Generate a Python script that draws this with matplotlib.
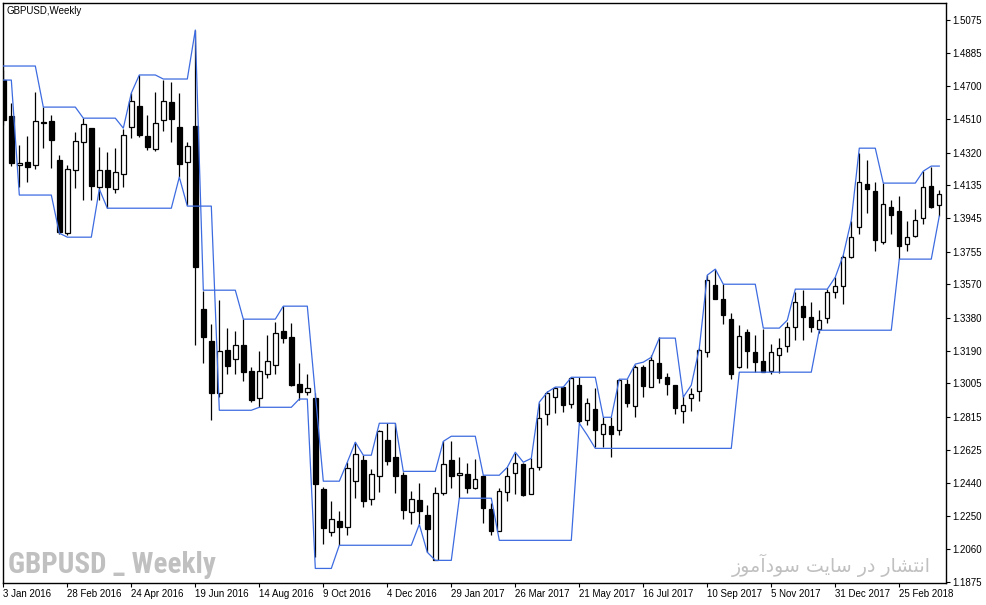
import matplotlib
matplotlib.use('Agg')
import matplotlib.pyplot as plt
import numpy as np

# weekly GBPUSD candles, Jan 2016 - Mar 2018
opens = [1.4733, 1.4528, 1.4249, 1.4266, 1.4249, 1.4494, 1.4499, 1.4277, 1.3861, 1.4220,
         1.4380, 1.4459, 1.4123, 1.4220, 1.4112, 1.4197, 1.4465, 1.4585, 1.4414, 1.4340,
         1.4505, 1.4608, 1.4465, 1.4266, 1.4471, 1.3428, 1.3245, 1.2949, 1.3194, 1.3143,
         1.3222, 1.3075, 1.2921, 1.3057, 1.3109, 1.3302, 1.3268, 1.3001, 1.2955, 1.2921,
         1.2402, 1.2157, 1.2219, 1.2185, 1.2448, 1.2567, 1.2345, 1.2476, 1.2681, 1.2584,
         1.2482, 1.2271, 1.2339, 1.2254, 1.1997, 1.2379, 1.2567, 1.2482, 1.2487, 1.2407,
         1.2476, 1.2288, 1.2162, 1.2385, 1.2493, 1.2544, 1.2373, 1.2527, 1.2829, 1.2927,
         1.2984, 1.2886, 1.2995, 1.2795, 1.2858, 1.2715, 1.2761, 1.2738, 1.3001, 1.2875,
         1.3098, 1.2984, 1.3120, 1.3040, 1.2995, 1.2846, 1.2921, 1.2961, 1.3183, 1.3565,
         1.3485, 1.3371, 1.3098, 1.3297, 1.3183, 1.3132, 1.3075, 1.3166, 1.3217, 1.3325,
         1.3445, 1.3382, 1.3314, 1.3377, 1.3525, 1.3559, 1.3724, 1.3895, 1.4140, 1.4100,
         1.3810, 1.4009, 1.3986, 1.3798, 1.3844, 1.3947, 1.4129, 1.4020]
highs = [1.4790, 1.4602, 1.4363, 1.4414, 1.4665, 1.4579, 1.4534, 1.4306, 1.4249, 1.4437,
         1.4516, 1.4459, 1.4351, 1.4323, 1.4345, 1.4454, 1.4659, 1.4762, 1.4534, 1.4665,
         1.4733, 1.4722, 1.4659, 1.4380, 1.5018, 1.3530, 1.3343, 1.3479, 1.3320, 1.3302,
         1.3371, 1.3098, 1.3188, 1.3280, 1.3354, 1.3445, 1.3348, 1.3120, 1.3057, 1.2949,
         1.2413, 1.2333, 1.2276, 1.2556, 1.2670, 1.2596, 1.2516, 1.2738, 1.2778, 1.2778,
         1.2499, 1.2390, 1.2436, 1.2311, 1.2413, 1.2675, 1.2675, 1.2584, 1.2550, 1.2573,
         1.2482, 1.2322, 1.2407, 1.2527, 1.2607, 1.2550, 1.2578, 1.2892, 1.2961, 1.2984,
         1.2984, 1.3040, 1.3040, 1.2921, 1.2978, 1.2812, 1.2812, 1.3029, 1.3029, 1.3109,
         1.3109, 1.3166, 1.3268, 1.3063, 1.2995, 1.2938, 1.2978, 1.3205, 1.3622, 1.3656,
         1.3570, 1.3405, 1.3337, 1.3314, 1.3280, 1.3314, 1.3228, 1.3263, 1.3354, 1.3525,
         1.3536, 1.3468, 1.3422, 1.3542, 1.3610, 1.3736, 1.3929, 1.4317, 1.4277, 1.4152,
         1.4146, 1.4049, 1.4072, 1.3929, 1.3998, 1.4214, 1.4237, 1.4106]
lows = [1.4477, 1.4243, 1.4123, 1.4152, 1.4226, 1.4345, 1.4231, 1.3855, 1.3850, 1.4117,
        1.4049, 1.4049, 1.4049, 1.4003, 1.4089, 1.4123, 1.4403, 1.4408, 1.4334, 1.4328,
        1.4442, 1.4380, 1.4180, 1.4020, 1.3222, 1.3120, 1.2795, 1.2927, 1.3057, 1.3057,
        1.3018, 1.2898, 1.2869, 1.3035, 1.3057, 1.3234, 1.2989, 1.2909, 1.2938, 1.2014,
        1.2088, 1.2134, 1.2083, 1.2139, 1.2351, 1.2299, 1.2311, 1.2385, 1.2539, 1.2379,
        1.2231, 1.2202, 1.2202, 1.2043, 1.1997, 1.2368, 1.2407, 1.2351, 1.2379, 1.2402,
        1.2208, 1.2139, 1.2162, 1.2333, 1.2373, 1.2362, 1.2373, 1.2510, 1.2766, 1.2835,
        1.2841, 1.2863, 1.2778, 1.2766, 1.2641, 1.2641, 1.2584, 1.2710, 1.2869, 1.2812,
        1.2927, 1.2984, 1.3006, 1.2938, 1.2829, 1.2778, 1.2846, 1.2904, 1.3154, 1.3485,
        1.3343, 1.3029, 1.3092, 1.3092, 1.3069, 1.3069, 1.3057, 1.3063, 1.3183, 1.3251,
        1.3251, 1.3297, 1.3291, 1.3348, 1.3490, 1.3456, 1.3718, 1.3855, 1.3975, 1.3758,
        1.3798, 1.3855, 1.3713, 1.3758, 1.3838, 1.3912, 1.4003, 1.3958]
closes = [1.4505, 1.4260, 1.4260, 1.4237, 1.4499, 1.4488, 1.4391, 1.3867, 1.4226, 1.4385,
          1.4482, 1.4129, 1.4220, 1.4123, 1.4209, 1.4420, 1.4613, 1.4420, 1.4351, 1.4488,
          1.4613, 1.4511, 1.4254, 1.4357, 1.3667, 1.3268, 1.2949, 1.3188, 1.3103, 1.3222,
          1.3069, 1.2909, 1.3075, 1.3132, 1.3291, 1.3263, 1.2995, 1.2955, 1.2978, 1.2431,
          1.2179, 1.2231, 1.2185, 1.2521, 1.2601, 1.2333, 1.2487, 1.2732, 1.2561, 1.2476,
          1.2282, 1.2345, 1.2276, 1.2174, 1.2379, 1.2544, 1.2476, 1.2493, 1.2407, 1.2459,
          1.2293, 1.2162, 1.2390, 1.2476, 1.2550, 1.2368, 1.2521, 1.2806, 1.2949, 1.2978,
          1.2881, 1.3035, 1.2789, 1.2892, 1.2738, 1.2772, 1.2715, 1.3023, 1.2892, 1.3098,
          1.2989, 1.3137, 1.3035, 1.3001, 1.2863, 1.2881, 1.2944, 1.3194, 1.3593, 1.3485,
          1.3394, 1.3057, 1.3274, 1.3188, 1.3126, 1.3069, 1.3183, 1.3205, 1.3325, 1.3468,
          1.3382, 1.3325, 1.3365, 1.3525, 1.3559, 1.3724, 1.3838, 1.4152, 1.4112, 1.3821,
          1.4026, 1.3964, 1.3787, 1.3838, 1.3935, 1.4123, 1.4009, 1.4083]

# channel lines (blue)
upper = ([1.4813] * 5 + [1.4579] * 5 + [1.4516] * 5 + [1.4459, 1.4659] + [1.4762] * 3 +
         [1.4739] * 4 + [1.5018] + [1.3536] * 5 + [1.3371] * 5 + [1.3445] * 4 + [1.2944] +
         [1.2448] * 3 + [1.2556, 1.2670, 1.2596, 1.2596] + [1.2778] * 3 + [1.2504] * 5 +
         [1.2675] + [1.2704] * 4 + [1.2482] * 3 + [1.2527, 1.2613, 1.2556, 1.2578, 1.2898, 1.2955,
         1.2984, 1.2984] + [1.3040] * 4 + [1.2812] * 2 + [1.3029] * 2 + [1.3115, 1.3126, 1.3154] +
         [1.3263] * 3 + [1.2927, 1.2995, 1.3205, 1.3622, 1.3656] + [1.3570] * 5 + [1.3320] * 3 +
         [1.3365] + [1.3542] * 5 + [1.3610, 1.3736, 1.3935] + [1.4345] * 3 + [1.4146] * 5 +
         [1.4214, 1.4243, 1.4243])
lower = ([1.4733] * 2 + [1.4078] * 5 + [1.3861] + [1.3838] * 4 + [1.4112] + [1.4003] * 9 +
         [1.4180] + [1.4015] * 4 + [1.2852] * 5 + [1.2869] * 5 + [1.2916] * 2 + [1.1951] * 3 +
         [1.2083] * 10 + [1.2202, 1.2043] + [1.1997] * 3 + [1.2351] * 5 + [1.2111] * 10 +
         [1.2778, 1.2710] + [1.2635] * 18 + [1.3069] * 10 + [1.3308] * 10 + [1.3713] * 5 +
         [1.3958])

price_ticks = [1.5075, 1.4885, 1.4700, 1.4510, 1.4320, 1.4135, 1.3945, 1.3755, 1.3570,
               1.3380, 1.3190, 1.3005, 1.2815, 1.2625, 1.2440, 1.2250, 1.2060, 1.1875]
date_labels = ['3 Jan 2016', '28 Feb 2016', '24 Apr 2016', '19 Jun 2016', '14 Aug 2016',
               '9 Oct 2016', '4 Dec 2016', '29 Jan 2017', '26 Mar 2017', '21 May 2017',
               '16 Jul 2017', '10 Sep 2017', '5 Nov 2017', '31 Dec 2017', '25 Feb 2018']

o = np.array(opens)
h = np.array(highs)
l = np.array(lows)
c = np.array(closes)
x = np.arange(len(o))

W, H = 987, 605
fig = plt.figure(figsize=(W / 100, H / 100), dpi=100)
ax = fig.add_axes([3 / W, 22 / H, 943 / W, 580 / H])

# wicks then bodies
ax.vlines(x, l, h, color='black', lw=0.9, zorder=2)
up = c >= o
body_lo = np.minimum(o, c)
body_h = np.maximum(np.abs(c - o), 0.0004)
ax.bar(x[up], body_h[up], bottom=body_lo[up], width=0.55, color='white',
       edgecolor='black', linewidth=0.9, zorder=3)
ax.bar(x[~up], body_h[~up], bottom=body_lo[~up], width=0.55, color='black',
       edgecolor='black', linewidth=0.9, zorder=3)

ax.plot(x, upper, color='#3d6be0', lw=0.9, zorder=4)
ax.plot(x, lower, color='#3d6be0', lw=0.9, zorder=4)

ax.set_xlim(-0.04, 117.84)
ax.set_ylim(1.1868, 1.5172)

ax.yaxis.tick_right()
ax.set_yticks(price_ticks)
ax.set_yticklabels(['%.4f' % p for p in price_ticks])
ax.set_xticks(np.arange(0, 8 * len(date_labels), 8))
ax.set_xticklabels(date_labels)
for lbl in ax.get_xticklabels():
    lbl.set_ha('left')
ax.tick_params(axis='both', direction='out', length=3, width=0.8, color='black',
               labelsize=7, labelcolor='black', pad=1.5)
for lbl in ax.get_xticklabels() + ax.get_yticklabels():
    lbl.set_family('Liberation Sans')
for s in ax.spines.values():
    s.set_linewidth(1.0)
    s.set_color('black')

fig.text(7 / W, 1 - 11 / H, 'GBPUSD,Weekly', fontsize=7, family='Liberation Sans',
         va='center', ha='left')

fig.text(8 / W, 1 - 565 / H, 'GBPUSD _ Weekly', fontsize=21, fontweight='bold',
         family=['Roboto Condensed', 'Open Sans Condensed', 'Liberation Sans Narrow',
                 'Liberation Sans'],
         color='#c0c0c0', va='center', ha='left')

# "انتشار در سایت سودآموز" in shaped (presentation) forms, visual order
fa_text = ('\ufeaf\ufeee\ufee3\ufe81\ufea9\ufeee\ufeb3 \ufe96\ufef3\ufe8e\ufeb3 '
           '\ufead\ufea9 \ufead\ufe8e\ufeb8\ufe98\ufee7\ufe8d')
fig.text(931 / W, 1 - 565 / H, fa_text, fontsize=13.7, family='DejaVu Sans',
         color='#c0c0c0', va='center', ha='right')

fig.savefig('out.png', dpi=100)
